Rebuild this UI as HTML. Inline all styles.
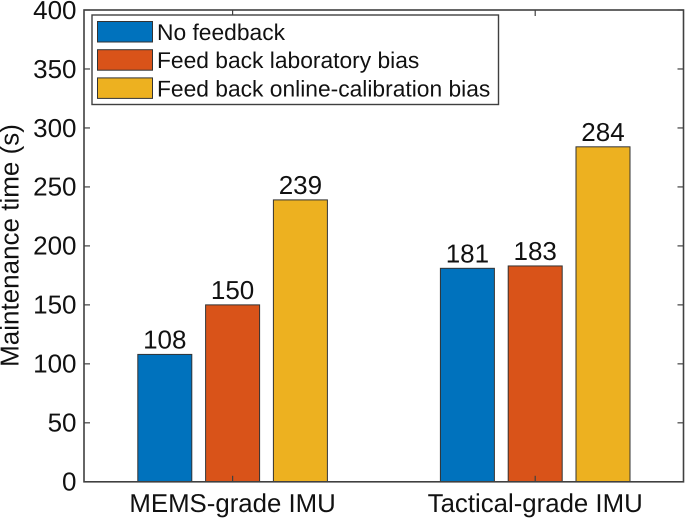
<!DOCTYPE html>
<html>
<head>
<meta charset="utf-8">
<style>
html,body{margin:0;padding:0;background:#fff;}
svg{display:block;}
text{font-family:"Liberation Sans",Arial,sans-serif;fill:#111;text-rendering:geometricPrecision;}
</style>
</head>
<body>
<svg id="chart" width="685" height="519" viewBox="0 0 685 519" xmlns="http://www.w3.org/2000/svg"></svg>
<script>
const categories = ["MEMS-grade IMU", "Tactical-grade IMU"];
const seriesNames = ["No feedback", "Feed back laboratory bias", "Feed back online-calibration bias"];
const noFeedback = [108, 181];
const labBias = [150, 183];
const onlineBias = [239, 284];
const yTicks = [0, 50, 100, 150, 200, 250, 300, 350, 400];
const seriesColors = ["#0072bd", "#d95319", "#edb120"];

const svg = document.getElementById('chart');
const NS = 'http://www.w3.org/2000/svg';
const axL = 84, axR = 683.5, axT = 10, axB = 481.8;
const yMax = 400;
const yScale = v => axB - (v / yMax) * (axB - axT);
const xScale = c => 232.6 + c * 302.6;
const barOffset = 67.8, barW = 54;
const axisColor = '#404040';

function make(tag, attrs, text) {
  const el = document.createElementNS(NS, tag);
  for (const k in attrs) el.setAttribute(k, attrs[k]);
  if (text !== undefined) el.textContent = text;
  svg.appendChild(el);
  return el;
}

// bars and value labels
[noFeedback, labBias, onlineBias].forEach((series, s) => {
  series.forEach((v, c) => {
    const cx = xScale(c) + (s - 1) * barOffset;
    const bar = make('rect', {x: cx - barW / 2, y: yScale(v), width: barW, height: axB - yScale(v), fill: seriesColors[s], stroke: '#333', 'stroke-width': 1});
    
    
    const lbl = make('text', {x: cx, y: yScale(v) - 6, 'text-anchor': 'middle', 'font-size': 26}, String(v));
    
    
  });
});

// axes box
const box = make('rect', {x: axL, y: axT, width: axR - axL, height: axB - axT, fill: 'none', stroke: axisColor, 'stroke-width': 1.6});



// y ticks
yTicks.forEach(t => {
  const y = yScale(t);
  const tickL = make('line', {x1: axL, x2: axL + 6, y1: y, y2: y, stroke: axisColor, 'stroke-width': 1.2});
  
  
  const tickR = make('line', {x1: axR - 6, x2: axR, y1: y, y2: y, stroke: axisColor, 'stroke-width': 1.2});
  
  
  const lbl = make('text', {x: 76.5, y: y + 8.8, 'text-anchor': 'end', 'font-size': 26}, String(t));
  
  
});

// x ticks and labels
categories.forEach((name, c) => {
  const x = xScale(c);
  const tickB = make('line', {x1: x, x2: x, y1: axB, y2: axB - 6, stroke: axisColor, 'stroke-width': 1.2});
  
  
  const tickT = make('line', {x1: x, x2: x, y1: axT, y2: axT + 6, stroke: axisColor, 'stroke-width': 1.2});
  
  
  const lbl = make('text', {x: x, y: 512, 'text-anchor': 'middle', 'font-size': 25.8}, name);
  
  
});

// y axis title
const yTitle = make('text', {transform: 'translate(18.5,245.5) rotate(-90)', 'text-anchor': 'middle', 'font-size': 26}, 'Maintenance time (s)');



// legend
const legend = make('rect', {x: 92, y: 15, width: 406.5, height: 89.5, fill: '#fff', stroke: axisColor, 'stroke-width': 1.4});


seriesNames.forEach((name, s) => {
  const top = 21.5 + s * 28.2;
  const swatch = make('rect', {x: 97.5, y: top, width: 55, height: 20.5, fill: seriesColors[s], stroke: '#333', 'stroke-width': 1});
  
  
  const lbl = make('text', {x: 157, y: top + 18.4, 'font-size': 22.8}, name);
  
  
});
</script>
</body>
</html>
